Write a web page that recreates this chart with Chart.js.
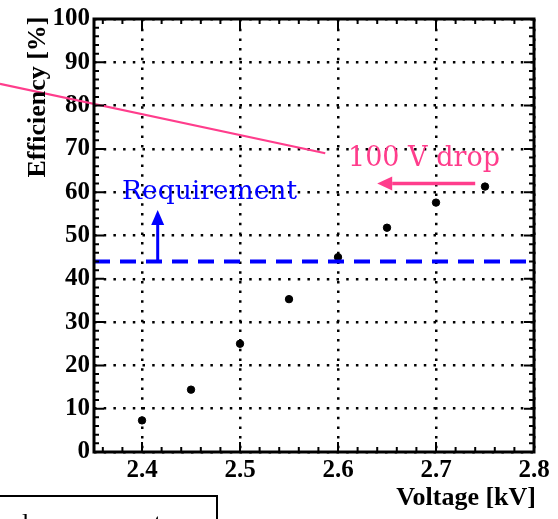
<!DOCTYPE html>
<html>
<head>
<meta charset="utf-8">
<script src="https://cdn.jsdelivr.net/npm/chart.js@4/dist/chart.umd.min.js"></script>
<style>
  html, body { margin: 0; padding: 0; background: #fff; }
  #wrap { width: 558px; height: 519px; position: relative; }
</style>
</head>
<body>
<div id="wrap"><canvas id="c" width="558" height="519"></canvas></div>
<script>
// Measured efficiency versus high voltage
const voltages   = [2.40, 2.45, 2.50, 2.55, 2.60, 2.65, 2.70, 2.75];
const efficiency = [7.3, 14.4, 25.0, 35.3, 45.0, 51.8, 57.6, 61.3];

// Axis ranges and labelled ticks
const xRange = [2.351, 2.8];
const yRange = [0, 100];
const xTickValues = [2.4, 2.5, 2.6, 2.7, 2.8];
const yTickValues = [0, 10, 20, 30, 40, 50, 60, 70, 80, 90, 100];

// Requirement level and its arrow (x, from y, to y)
const requirementLevel = 44;
const requirementArrow = [2.416, 44, 55.9];

// Shifted curve for a 100 V drop, and the arrow showing the shift
const dropLineX = [2.255, 2.587];
const dropLineY = [85.0, 69.0];
const dropArrowX = [2.740, 2.640];
const dropArrowY = 62.0;

// Annotation anchors (data coordinates: left edge, baseline)
const requirementLabel = { text: 'Requirement', x: 2.3796, y: 58.5 };
const dropLabel = { text: '100 V drop', x: 2.6102, y: 66.1 };

const PINK = '#ff3d8c';
const BLUE = '#0000ff';

const points = voltages.map((v, i) => ({ x: v, y: efficiency[i] }));
const dropLine = dropLineX.map((v, i) => ({ x: v, y: dropLineY[i] }));
const reqLine = [{ x: xRange[0], y: requirementLevel }, { x: xRange[1], y: requirementLevel }];

function arrow(ctx, x0, y0, x1, y1, width, headLen, headHalf, color) {
  const ang = Math.atan2(y1 - y0, x1 - x0);
  const bx = x1 - Math.cos(ang) * headLen;
  const by = y1 - Math.sin(ang) * headLen;
  ctx.save();
  ctx.strokeStyle = color;
  ctx.fillStyle = color;
  ctx.lineWidth = width;
  ctx.beginPath();
  ctx.moveTo(x0, y0);
  ctx.lineTo(bx, by);
  ctx.stroke();
  ctx.beginPath();
  ctx.moveTo(x1, y1);
  ctx.lineTo(bx - Math.sin(ang) * headHalf, by + Math.cos(ang) * headHalf);
  ctx.lineTo(bx + Math.sin(ang) * headHalf, by - Math.cos(ang) * headHalf);
  ctx.closePath();
  ctx.fill();
  ctx.restore();
}

const overlay = {
  id: 'overlay',
  afterDatasetsDraw(chart) {
    const { ctx, scales: { x, y } } = chart;

    // arrows
    const ax = x.getPixelForValue(requirementArrow[0]);
    arrow(ctx, ax, y.getPixelForValue(requirementArrow[1]), ax, y.getPixelForValue(requirementArrow[2]),
          3, 15, 6.5, BLUE);
    const dy = y.getPixelForValue(dropArrowY);
    arrow(ctx, x.getPixelForValue(dropArrowX[0]), dy, x.getPixelForValue(dropArrowX[1]), dy,
          3.5, 15, 7, PINK);

    // annotation text
    ctx.save();
    ctx.textBaseline = 'alphabetic';
    ctx.textAlign = 'left';
    ctx.font = '26.5px "DejaVu Serif", serif';
    ctx.fillStyle = BLUE;
    ctx.fillText(requirementLabel.text, x.getPixelForValue(requirementLabel.x), y.getPixelForValue(requirementLabel.y));
    ctx.font = '27px "DejaVu Serif", serif';
    ctx.fillStyle = PINK;
    ctx.fillText(dropLabel.text, x.getPixelForValue(dropLabel.x), y.getPixelForValue(dropLabel.y));
    ctx.restore();
  },
  afterDraw(chart) {
    const { ctx, chartArea: a, scales: { x, y } } = chart;
    ctx.save();
    ctx.strokeStyle = '#000';

    // inward ticks on all four sides
    ctx.lineWidth = 2;
    ctx.beginPath();
    const xStep = 0.02;
    for (let k = Math.ceil(xRange[0] / xStep - 1e-9); k * xStep <= xRange[1] + 1e-9; k++) {
      const v = k * xStep;
      const major = Math.abs(v * 10 - Math.round(v * 10)) < 1e-6;
      const len = major ? 10 : 5;
      const px = x.getPixelForValue(v);
      ctx.moveTo(px, a.bottom); ctx.lineTo(px, a.bottom - len);
      ctx.moveTo(px, a.top); ctx.lineTo(px, a.top + len);
    }
    const yStep = 2;
    for (let v = yRange[0]; v <= yRange[1]; v += yStep) {
      const len = v % 10 === 0 ? 10 : 5;
      const py = y.getPixelForValue(v);
      ctx.moveTo(a.left, py); ctx.lineTo(a.left + len, py);
      ctx.moveTo(a.right, py); ctx.lineTo(a.right - len, py);
    }
    ctx.stroke();

    // frame
    ctx.lineWidth = 3;
    ctx.strokeRect(a.left, a.top, a.right - a.left, a.bottom - a.top);

    // axis titles
    ctx.fillStyle = '#000';
    ctx.font = 'bold 26px "Liberation Serif", "Times New Roman", serif';
    ctx.textAlign = 'right';
    ctx.textBaseline = 'alphabetic';
    ctx.fillText('Voltage [kV]', 536, 505);
    ctx.save();
    ctx.translate(45, 97);
    ctx.rotate(-Math.PI / 2);
    ctx.textAlign = 'center';
    ctx.fillText('Efficiency [%]', 0, 0);
    ctx.restore();

    // legend box below the plot, mostly outside the canvas
    ctx.lineWidth = 2;
    ctx.strokeRect(-5, 496, 222, 40);
    ctx.font = '26px "Liberation Serif", "Times New Roman", serif';
    ctx.textAlign = 'left';
    ctx.fillText('lower current', 22, 531);
    ctx.restore();
  }
};

new Chart(document.getElementById('c'), {
  data: {
    datasets: [
      { type: 'scatter', data: points, backgroundColor: '#000', borderColor: '#000',
        pointRadius: 3.7, pointHoverRadius: 3.7, order: 3 },
      { type: 'line', data: dropLine, borderColor: PINK, borderWidth: 2.2, pointRadius: 0,
        clip: false, order: 2 },
      { type: 'line', data: reqLine, borderColor: BLUE, borderWidth: 4, borderDash: [16, 10],
        pointRadius: 0, order: 1 }
    ]
  },
  options: {
    responsive: false,
    animation: false,
    devicePixelRatio: 1,
    layout: { padding: { left: 0, top: 18, right: 24, bottom: 0 } },
    plugins: { legend: { display: false }, tooltip: { enabled: false } },
    scales: {
      x: {
        type: 'linear', min: xRange[0], max: xRange[1],
        afterBuildTicks: s => { s.ticks = xTickValues.map(v => ({ value: v })); },
        afterFit: s => { s.height = 67; },
        ticks: { font: { family: '"Liberation Serif", serif', size: 25, weight: 'bold' }, color: '#000',
                 padding: 4, maxRotation: 0, autoSkip: false, callback: v => v.toFixed(1) },
        grid: { color: '#000', lineWidth: 2.5, drawTicks: false },
        border: { display: false, dash: [2.5, 7.2] }
      },
      y: {
        type: 'linear', min: yRange[0], max: yRange[1],
        afterBuildTicks: s => { s.ticks = yTickValues.map(v => ({ value: v })); },
        afterFit: s => { s.width = 94; },
        ticks: { font: { family: '"Liberation Serif", serif', size: 25, weight: 'bold' }, color: '#000',
                 padding: 4, autoSkip: false, callback: v => String(v) },
        grid: { color: '#000', lineWidth: 2.5, drawTicks: false },
        border: { display: false, dash: [2.5, 7.2] }
      }
    }
  },
  plugins: [overlay]
});
</script>
</body>
</html>
